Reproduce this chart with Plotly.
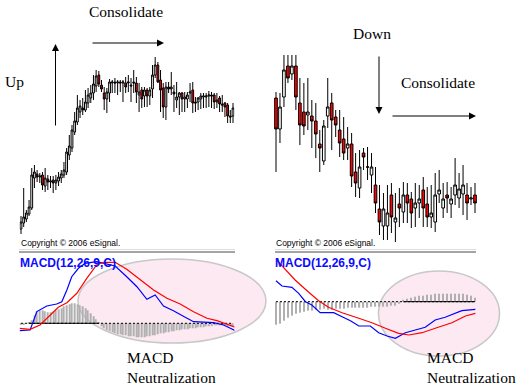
import plotly.graph_objects as go

# ---------------- DATA ----------------
# Left chart (uptrend then consolidation) - prices
left_open = [21, 27, 31, 36, 42, 72, 76, 73, 75, 64, 71, 68, 70, 67, 69, 72, 75, 78, 95, 102,
             118, 128, 138, 142, 140, 147, 152, 157, 164, 175, 165, 157, 151, 157, 167, 168, 167, 168, 167, 167,
             167, 165, 168, 167, 155, 160, 154, 160, 154, 161, 175, 185, 170, 162, 143, 163, 161, 158, 150, 153,
             157, 151, 151, 157, 160, 148, 148, 151, 153, 153, 154, 155, 155, 148, 152, 146, 147, 145, 134, 134]
left_high = [34, 62, 40, 50, 82, 85, 80, 77, 78, 82, 75, 74, 74, 75, 78, 80, 88, 102, 115, 125,
             138, 155, 150, 152, 160, 162, 165, 175, 180, 179, 170, 163, 162, 171, 170, 172, 170, 170, 170, 173,
             175, 172, 180, 173, 167, 163, 163, 162, 163, 185, 193, 188, 180, 167, 168, 168, 178, 165, 168, 158,
             158, 158, 158, 167, 168, 153, 153, 157, 157, 157, 159, 158, 157, 157, 154, 155, 148, 147, 140, 147]
left_low = [16, 23, 28, 34, 40, 62, 68, 67, 60, 58, 60, 62, 57, 60, 64, 67, 72, 75, 90, 98,
            115, 125, 132, 135, 138, 142, 147, 150, 158, 163, 158, 140, 137, 148, 157, 157, 155, 158, 148, 157,
            158, 148, 157, 147, 138, 142, 143, 143, 145, 152, 172, 167, 138, 132, 130, 157, 155, 138, 142, 135,
            138, 138, 142, 148, 137, 138, 140, 141, 142, 142, 143, 142, 141, 142, 138, 138, 133, 127, 127, 127]
left_close = [28, 33, 37, 43, 75, 78, 73, 74, 65, 72, 68, 69, 67, 70, 73, 76, 80, 98, 104, 120,
              129, 142, 144, 140, 148, 155, 157, 166, 174, 166, 161, 151, 158, 168, 168, 167, 168, 167, 168, 163,
              168, 164, 167, 158, 158, 151, 160, 154, 160, 175, 185, 168, 160, 143, 163, 161, 163, 156, 153, 157,
              151, 153, 155, 158, 147, 147, 152, 154, 154, 154, 155, 154, 148, 150, 146, 145, 143, 134, 133, 142]
left_bars = list(range(len(left_close)))

# Left MACD (bar-number positions, values)
left_macd_x = [-0.6, 3.4, 5.9, 9.6, 13.3, 15.2, 17.1, 18.9, 21.4, 23.9, 28.2, 35.1, 39.4, 43.2, 46.9,
               50.0, 53.1, 56.8, 61.2, 64.3, 71.8, 75.5, 78.0, 79.9]
left_macd = [-7.4, -6.7, 11.7, 17.3, 19.3, 21.6, 33.3, 46.6, 55.0, 60.0, 61.6, 57.3, 46.6, 36.6, 24.0,
             28.3, 17.3, 12.6, 6.0, 1.6, 0.6, -1.7, -5.0, -7.4]
left_sig_x = [-0.6, 3.4, 7.1, 10.8, 13.9, 17.1, 20.8, 24.5, 28.2, 30.7, 35.1, 39.4, 44.4, 49.4, 54.4,
              59.3, 64.3, 69.3, 73.0, 79.9]
left_sig = [-5.0, -6.0, -1.7, 8.3, 16.0, 20.6, 30.0, 45.0, 58.3, 61.0, 61.0, 54.0, 44.0, 33.3, 25.0,
            19.3, 11.6, 5.0, 2.6, -4.0]
left_hist = [-1, -1, 0, 1, 3, 8, 12, 13, 13, 12, 11, 11, 12, 13, 14, 15, 17, 18, 19, 20,
             20, 19, 18, 17, 15, 13, 10, 7, 4, 1, -3, -5, -7, -8, -9, -10, -11, -11, -12, -12,
             -13, -13, -13, -14, -14, -14, -14, -13, -13, -12, -12, -11, -10, -10, -9, -9, -8, -8, -7, -7,
             -6, -6, -6, -5, -5, -5, -4, -4, -4, -3, -3, -3, -2, -2, -2, -2, -2, -3, -3, -3]

# Right chart (downtrend then consolidation) - prices
right_open = [152, 121, 153, 184, 176, 184, 147, 138, 135, 134, 129, 106, 89, 134, 147, 133, 120, 111, 102, 106,
              78, 62, 97, 83, 75, 65, 41, 24, 24, 55, 28, 46, 38, 55, 51, 42, 47, 60, 46, 33,
              28, 56, 42, 55, 46, 55, 52, 56, 55, 51, 55]
right_high = [158, 157, 195, 195, 195, 195, 172, 167, 172, 150, 147, 120, 130, 172, 157, 140, 140, 133, 123, 117,
              97, 100, 102, 103, 97, 83, 65, 57, 65, 67, 57, 62, 68, 67, 58, 67, 65, 73, 63, 65,
              77, 80, 67, 68, 63, 92, 77, 85, 67, 63, 67]
right_low = [78, 107, 143, 167, 170, 140, 105, 115, 120, 102, 92, 78, 85, 122, 100, 113, 93, 90, 90, 63,
             53, 52, 80, 70, 57, 37, 15, 10, 10, 17, 8, 23, 27, 27, 22, 23, 32, 23, 23, 22,
             18, 47, 32, 37, 32, 45, 42, 35, 30, 45, 37]
right_close = [121, 143, 180, 172, 184, 153, 125, 124, 138, 129, 116, 102, 124, 143, 130, 125, 107, 97, 106, 74,
               67, 83, 93, 83, 83, 47, 28, 41, 37, 33, 32, 42, 55, 47, 37, 47, 51, 42, 33, 37,
               55, 60, 51, 52, 51, 65, 61, 65, 47, 52, 47]
right_bars = list(range(len(right_close)))

# Right MACD
right_macd_x = [0.0, 1.5, 4.0, 5.7, 7.4, 9.0, 11.1, 14.5, 16.6, 18.7, 20.8, 23.7, 25.8, 27.9, 30.0,
                32.5, 35.0, 37.5, 40.0, 42.5, 46.7, 50.1]
right_macd = [21.0, 15.7, 14.4, 8.4, 0.0, -3.3, -11.0, -11.0, -15.0, -19.0, -24.3, -24.3, -31.0, -34.3, -36.6,
              -31.0, -28.3, -25.6, -18.3, -15.6, -9.0, -7.6]
right_sig_x = [0.0, 2.3, 4.8, 7.8, 10.7, 13.2, 16.6, 20.8, 24.1, 27.5, 30.8, 33.4, 36.7, 40.0, 44.2, 47.6, 50.1]
right_sig = [42.4, 32.4, 21.7, 11.0, 1.0, -5.6, -11.0, -16.6, -21.0, -26.6, -31.6, -33.3, -31.0, -26.6, -21.0,
             -14.3, -11.6]
right_hist = [-23, -22, -19, -16, -14, -12, -11, -10, -9, -9, -8, -8, -7, -8, -8, -7, -7, -7, -6, -6,
              -6, -6, -6, -6, -5, -5, -5, -5, -5, -4, -4, -2, 2, 3, 4, 5, 6, 6, 7, 7,
              8, 8, 8, 8, 8, 8, 8, 8, 7, 6, 4]

macd_label = "MACD(12,26,9,C)"
copyright_text = "Copyright © 2006 eSignal."

# ---------------- FIGURE ----------------
W, H = 522, 391


def pxx(x):
    return x / W


def pyy(y):
    return 1 - y / H


fig = go.Figure()

candle_style = dict(
    increasing=dict(fillcolor="white", line=dict(color="black", width=1)),
    decreasing=dict(fillcolor="#ff0000", line=dict(color="black", width=1)),
    whiskerwidth=0, showlegend=False, hoverinfo="skip",
)

fig.add_trace(go.Candlestick(x=left_bars, open=left_open, high=left_high, low=left_low, close=left_close,
                             xaxis="x", yaxis="y", **candle_style))
fig.add_trace(go.Candlestick(x=right_bars, open=right_open, high=right_high, low=right_low, close=right_close,
                             xaxis="x3", yaxis="y3", **candle_style))


def macd_panel(bars, hist, mx, mv, sx, sv, xa, ya, bw):
    fig.add_trace(go.Bar(x=bars, y=hist, xaxis=xa, yaxis=ya, width=bw,
                         marker=dict(color="#b0b0b0", line=dict(width=0)),
                         showlegend=False, hoverinfo="skip"))
    fig.add_trace(go.Scatter(x=[bars[0], bars[-1]], y=[0, 0], xaxis=xa, yaxis=ya, mode="lines",
                             line=dict(color="black", width=1, dash="2px,2px"),
                             showlegend=False, hoverinfo="skip"))
    pos = [b for b, h in zip(bars, hist) if h > 0]
    fig.add_trace(go.Scatter(x=[pos[0], pos[-1]], y=[0, 0], xaxis=xa, yaxis=ya, mode="lines",
                             line=dict(color="black", width=1),
                             showlegend=False, hoverinfo="skip"))
    fig.add_trace(go.Scatter(x=mx, y=mv, xaxis=xa, yaxis=ya, mode="lines",
                             line=dict(color="#0000ff", width=1.2),
                             showlegend=False, hoverinfo="skip"))
    fig.add_trace(go.Scatter(x=sx, y=sv, xaxis=xa, yaxis=ya, mode="lines",
                             line=dict(color="#ff0000", width=1.2),
                             showlegend=False, hoverinfo="skip"))


macd_panel(left_bars, left_hist, left_macd_x, left_macd, left_sig_x, left_sig, "x2", "y2", 0.4)
macd_panel(right_bars, right_hist, right_macd_x, right_macd, right_sig_x, right_sig, "x4", "y4", 0.3)

# axes
lx_dom = [pxx(19.66), pxx(234.34)]
rx_dom = [pxx(274.01), pxx(476.99)]
price_dom = [pyy(245), pyy(40)]
macd_dom = [pyy(345), pyy(255)]
hidden = dict(visible=False, fixedrange=True)

fig.update_layout(
    width=W, height=H,
    margin=dict(l=0, r=0, t=0, b=0),
    paper_bgcolor="white", plot_bgcolor="rgba(0,0,0,0)",
    boxgap=0.05,
    xaxis=dict(domain=lx_dom, range=[-0.5, len(left_bars) - 0.5], rangeslider=dict(visible=False), anchor="y", **hidden),
    yaxis=dict(domain=price_dom, range=[5, 210], anchor="x", **hidden),
    xaxis2=dict(domain=lx_dom, range=[-0.5, len(left_bars) - 0.5], anchor="y2", **hidden),
    yaxis2=dict(domain=macd_dom, range=[-21.7, 68.3], anchor="x2", **hidden),
    xaxis3=dict(domain=rx_dom, range=[-0.5, len(right_bars) - 0.5], rangeslider=dict(visible=False), anchor="y3", **hidden),
    yaxis3=dict(domain=price_dom, range=[5, 210], anchor="x3", **hidden),
    xaxis4=dict(domain=rx_dom, range=[-0.5, len(right_bars) - 0.5], anchor="y4", **hidden),
    yaxis4=dict(domain=macd_dom, range=[-43.3, 46.7], anchor="x4", **hidden),
    showlegend=False,
)

shapes = []
# ellipses (behind)
shapes.append(dict(type="circle", xref="paper", yref="paper", layer="below",
                   x0=pxx(78), x1=pxx(266), y0=pyy(343), y1=pyy(259),
                   fillcolor="#fce9f1", line=dict(color="#c8c8c8", width=1.5)))
shapes.append(dict(type="circle", xref="paper", yref="paper", layer="below",
                   x0=pxx(378.5), x1=pxx(499.5), y0=pyy(356), y1=pyy(271),
                   fillcolor="#fce9f1", line=dict(color="#c8c8c8", width=1.5)))
# separator rules under copyright
for x0, x1 in [(19, 235), (275, 476)]:
    shapes.append(dict(type="line", xref="paper", yref="paper", x0=pxx(x0), x1=pxx(x1),
                       y0=pyy(249.5), y1=pyy(249.5), line=dict(color="#dcdcdc", width=1)))
    shapes.append(dict(type="line", xref="paper", yref="paper", x0=pxx(x0), x1=pxx(x1),
                       y0=pyy(252), y1=pyy(252), line=dict(color="#a4a4a4", width=2)))
fig.update_layout(shapes=shapes)

serif = dict(family="Liberation Serif, Times New Roman, serif", size=15.5, color="black")
ann = []


def text(x, y, s, font, xanchor="center"):
    ann.append(dict(x=pxx(x), y=pyy(y), xref="paper", yref="paper", text=s, showarrow=False,
                    font=font, xanchor=xanchor, yanchor="middle"))


def arrow(xt, yt, xs, ys):
    ann.append(dict(x=pxx(xt), y=pyy(yt), xref="paper", yref="paper", text="",
                    showarrow=True, ax=xs - xt, ay=ys - yt, axref="pixel", ayref="pixel",
                    arrowhead=2, arrowsize=1.4, arrowwidth=1, arrowcolor="black", standoff=0))


text(126, 12, "Consolidate", serif)
text(14, 81, "Up", serif)
text(372, 34, "Down", serif)
text(438, 82, "Consolidate", serif)
text(125, 357, "MACD", serif, "left")
text(125, 377, "Neutralization", serif, "left")
text(425, 357, "MACD", serif, "left")
text(425, 377, "Neutralization", serif, "left")

arrow(55.5, 44, 55.5, 127)
arrow(164, 43, 91, 43)
arrow(379, 114, 379, 55)
arrow(476, 116, 391, 116)

small = dict(family="Liberation Sans, Arial, sans-serif", size=8.5, color="black")
text(19, 243, copyright_text, small, "left")
text(274, 243, copyright_text, small, "left")

blue_bold = dict(family="Liberation Sans, Arial, sans-serif", size=12, color="#0a0aff")
text(18, 263, "<b>" + macd_label + "</b>", blue_bold, "left")
text(273, 263, "<b>" + macd_label + "</b>", blue_bold, "left")

fig.update_layout(annotations=ann)

fig.write_html("out.html", config={"displayModeBar": False},
               post_script="document.body.style.margin='0';document.body.style.overflow='hidden';")
